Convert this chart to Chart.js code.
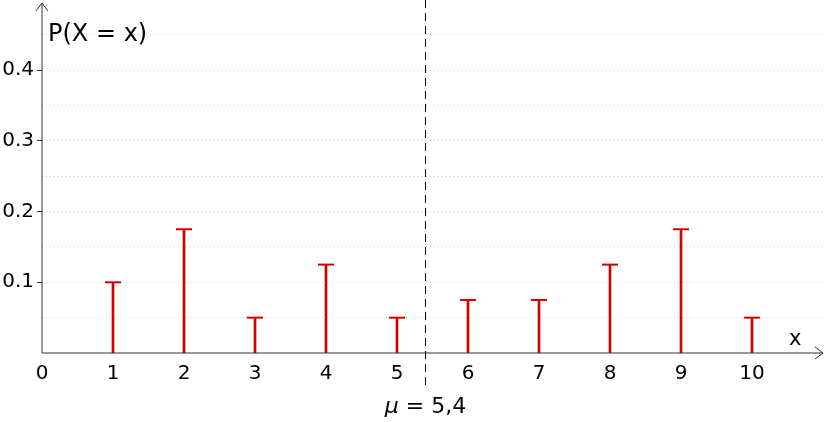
<!DOCTYPE html>
<html>
<head>
<meta charset="utf-8">
<script src="https://cdn.jsdelivr.net/npm/chart.js@4"></script>
<style>
    html, body { margin: 0; padding: 0; background: #fff; }
    #wrap { width: 825px; height: 422px; }
</style>
</head>
<body>
<div id="wrap"><canvas id="myChart"></canvas></div>
<script>
const xValues = [1, 2, 3, 4, 5, 6, 7, 8, 9, 10];
const probs = [0.1, 0.175, 0.05, 0.125, 0.05, 0.075, 0.075, 0.125, 0.175, 0.05];
const xTicks = [0, 1, 2, 3, 4, 5, 6, 7, 8, 9, 10];
const yGrid = [0.05, 0.1, 0.15, 0.2, 0.25, 0.3, 0.35, 0.4, 0.45];
const yLabelled = [0.1, 0.2, 0.3, 0.4];
const muValue = 5.4;
const muText = "5,4";

const red = "#d40000";
const axisColor = "#333333";
const font = "DejaVu Sans";

function isLabelled(v) {
    return yLabelled.some((l) => Math.abs(l - v) < 1e-9);
}

// axes with arrows, dashed mean line and the text labels
const extras = {
    id: "extras",
    afterDatasetsDraw(chart) {
        const ctx = chart.ctx;
        const xs = chart.scales.x;
        const ys = chart.scales.y;
        const x0 = xs.getPixelForValue(0);
        const y0 = ys.getPixelForValue(0);
        const right = chart.chartArea.right;
        const top = chart.chartArea.top;

        ctx.save();
        ctx.strokeStyle = axisColor;
        ctx.lineWidth = 1;
        ctx.beginPath();
        ctx.moveTo(x0, y0);
        ctx.lineTo(right, y0);
        ctx.moveTo(right - 8, y0 - 6);
        ctx.lineTo(right, y0);
        ctx.lineTo(right - 8, y0 + 6);
        ctx.moveTo(x0, y0);
        ctx.lineTo(x0, top);
        ctx.moveTo(x0 - 6, top + 8);
        ctx.lineTo(x0, top);
        ctx.lineTo(x0 + 6, top + 8);
        ctx.stroke();

        // mean line
        const mx = Math.round(xs.getPixelForValue(muValue)) + 0.5;
        ctx.strokeStyle = "#000";
        ctx.setLineDash([8, 5]);
        ctx.beginPath();
        ctx.moveTo(mx, 0);
        ctx.lineTo(mx, 389);
        ctx.stroke();
        ctx.setLineDash([]);

        ctx.fillStyle = "#000";
        ctx.textBaseline = "middle";
        ctx.textAlign = "left";
        ctx.font = "24px '" + font + "'";
        ctx.fillText("P(X = x)", x0 + 6, ys.getPixelForValue(0.45));
        ctx.font = "21px '" + font + "'";
        ctx.fillText("x", xs.getPixelForValue(10.52), y0 - 13);

        const muStr = " = " + muText;
        ctx.font = "italic 22px '" + font + "'";
        const wMu = ctx.measureText("\u03bc").width;
        ctx.font = "22px '" + font + "'";
        const wRest = ctx.measureText(muStr).width;
        const sx = mx - (wMu + wRest) / 2;
        ctx.font = "italic 22px '" + font + "'";
        ctx.fillText("\u03bc", sx, 407);
        ctx.font = "22px '" + font + "'";
        ctx.fillText(muStr, sx + wMu, 407);
        ctx.restore();
    },
};

const ctx = document.getElementById("myChart");

new Chart(ctx, {
    data: {
        datasets: [
            {
                type: "bar",
                data: xValues.map((x, i) => ({ x: x, y: probs[i] })),
                backgroundColor: red,
                barThickness: 2,
                borderWidth: 0,
            },
            {
                type: "scatter",
                data: xValues.map((x, i) => ({ x: x, y: probs[i] })),
                pointStyle: "line",
                radius: 8,
                borderColor: red,
                borderWidth: 2,
                rotation: 0,
            },
        ],
    },
    options: {
        responsive: true,
        maintainAspectRatio: false,
        animation: false,
        events: [],
        layout: { autoPadding: false, padding: { top: 3, right: 2, left: 0, bottom: 0 } },
        plugins: {
            legend: { display: false },
            tooltip: { enabled: false },
        },
        scales: {
            x: {
                type: "linear",
                min: 0,
                max: 11,
                offset: false,
                afterFit(scale) {
                    scale.height = 69;
                    scale.paddingLeft = 0;
                    scale.paddingRight = 0;
                },
                afterBuildTicks(scale) {
                    scale.ticks = xTicks.map((v) => ({ value: v }));
                },
                grid: { display: false, drawTicks: false, offset: false },
                border: { display: false },
                ticks: {
                    padding: 9,
                    color: "#000",
                    font: { family: font, size: 20 },
                    maxRotation: 0,
                    autoSkip: false,
                },
            },
            y: {
                type: "linear",
                min: 0,
                max: 0.495,
                afterFit(scale) {
                    scale.width = 42;
                    scale.paddingTop = 0;
                    scale.paddingBottom = 0;
                },
                afterBuildTicks(scale) {
                    scale.ticks = yGrid.map((v) => ({ value: v }));
                },
                border: { display: false, dash: [1, 3] },
                grid: {
                    color: "#c8c8c8",
                    lineWidth: 1,
                    tickLength: 5,
                    tickColor: (c) => (c.tick && isLabelled(c.tick.value) ? axisColor : "rgba(0,0,0,0)"),
                },
                ticks: {
                    padding: 3,
                    color: "#000",
                    font: { family: font, size: 20 },
                    callback: (v) => (isLabelled(v) ? v.toFixed(1) : ""),
                },
            },
        },
    },
    plugins: [extras],
});
</script>
</body>
</html>
